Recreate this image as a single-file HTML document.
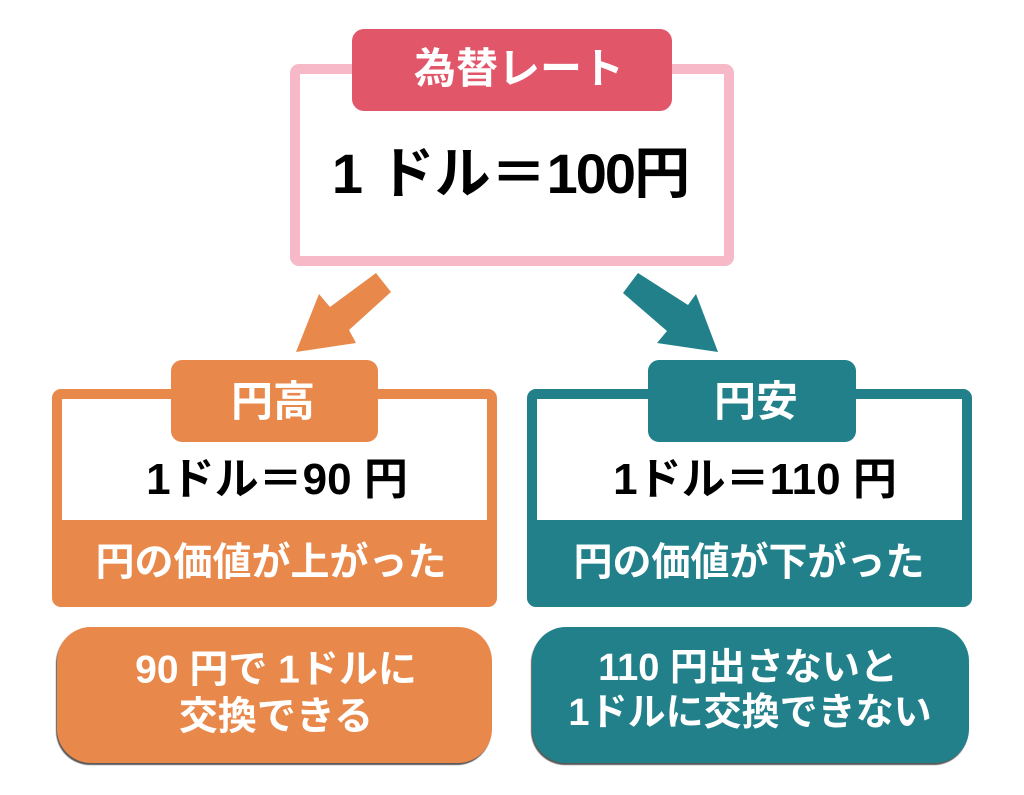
<!DOCTYPE html>
<html><head><meta charset="utf-8">
<style>
html,body{margin:0;padding:0;background:#fff;}
body{width:1024px;height:795px;position:relative;overflow:hidden;font-family:"Liberation Sans","Noto Sans CJK JP",sans-serif;font-weight:700;}
.abs{position:absolute;}
.t{position:absolute;white-space:pre;text-align:center;line-height:1;transform:translate(-50%,-50%);font-family:"Liberation Sans","Noto Sans CJK JP",sans-serif;font-weight:700;}
</style></head><body>

<!-- top box -->
<div class="abs" style="left:290px;top:64px;width:444px;height:202px;box-sizing:border-box;border:10px solid #f7b9c8;border-radius:9px;background:#fff;"></div>
<div class="abs" style="left:352px;top:29px;width:320px;height:82px;background:#e2566a;border-radius:12px;"></div>
<div class="t" style="left:519px;top:69px;font-size:42px;color:#fff;">為替レート</div>
<div class="t" style="left:511px;top:174px;font-size:56px;color:#000;">1 ドル＝<span style="letter-spacing:-2px">100</span>円</div>

<!-- arrows -->
<svg class="abs" style="left:0;top:0" width="1024" height="795">
<polygon points="376,273 391,292 349,330 356,343 296,352 319,294 330,307" fill="#e8894b"/>
<polygon points="638,273 688,305 696,294 718,352 657,343 667,331 623,293" fill="#21808a"/>
</svg>

<!-- left panel -->
<div class="abs" style="left:52px;top:389px;width:445px;height:218px;background:#e8894b;border-radius:9px;"></div>
<div class="abs" style="left:62px;top:399px;width:425px;height:121px;background:#fff;"></div>
<div class="abs" style="left:171px;top:360px;width:207px;height:82px;background:#e8894b;border-radius:11px;"></div>
<div class="t" style="left:273px;top:402px;font-size:42px;color:#fff;">円高</div>
<div class="t" style="left:277px;top:480px;font-size:44px;color:#000;">1ドル＝90 円</div>
<div class="t" style="left:271px;top:563px;font-size:39px;color:#fff;">円の価値が上がった</div>

<div class="abs" style="left:57px;top:627px;width:435px;height:136px;background:#e8894b;border-radius:34px;box-shadow:-1px 2px 1px #5a5a5a;"></div>
<div class="t" style="left:276px;top:670px;font-size:39px;color:#fff;">90 円で 1ドルに</div>
<div class="t" style="left:276px;top:717px;font-size:39px;color:#fff;">交換できる</div>

<!-- right panel -->
<div class="abs" style="left:527px;top:389px;width:445px;height:218px;background:#21808a;border-radius:9px;"></div>
<div class="abs" style="left:537px;top:399px;width:425px;height:121px;background:#fff;"></div>
<div class="abs" style="left:648px;top:360px;width:208px;height:82px;background:#21808a;border-radius:11px;"></div>
<div class="t" style="left:756px;top:402px;font-size:42px;color:#fff;">円安</div>
<div class="t" style="left:755px;top:480px;font-size:44px;color:#000;">1ドル＝110 円</div>
<div class="t" style="left:749px;top:563px;font-size:39px;color:#fff;">円の価値が下がった</div>

<div class="abs" style="left:532px;top:627px;width:437px;height:136px;background:#21808a;border-radius:34px;box-shadow:-1px 2px 1px #5a5a5a;"></div>
<div class="t" style="left:748px;top:668px;font-size:38px;color:#fff;">110 円出さないと</div>
<div class="t" style="left:750px;top:713px;font-size:38px;color:#fff;">1ドルに交換できない</div>

</body></html>
